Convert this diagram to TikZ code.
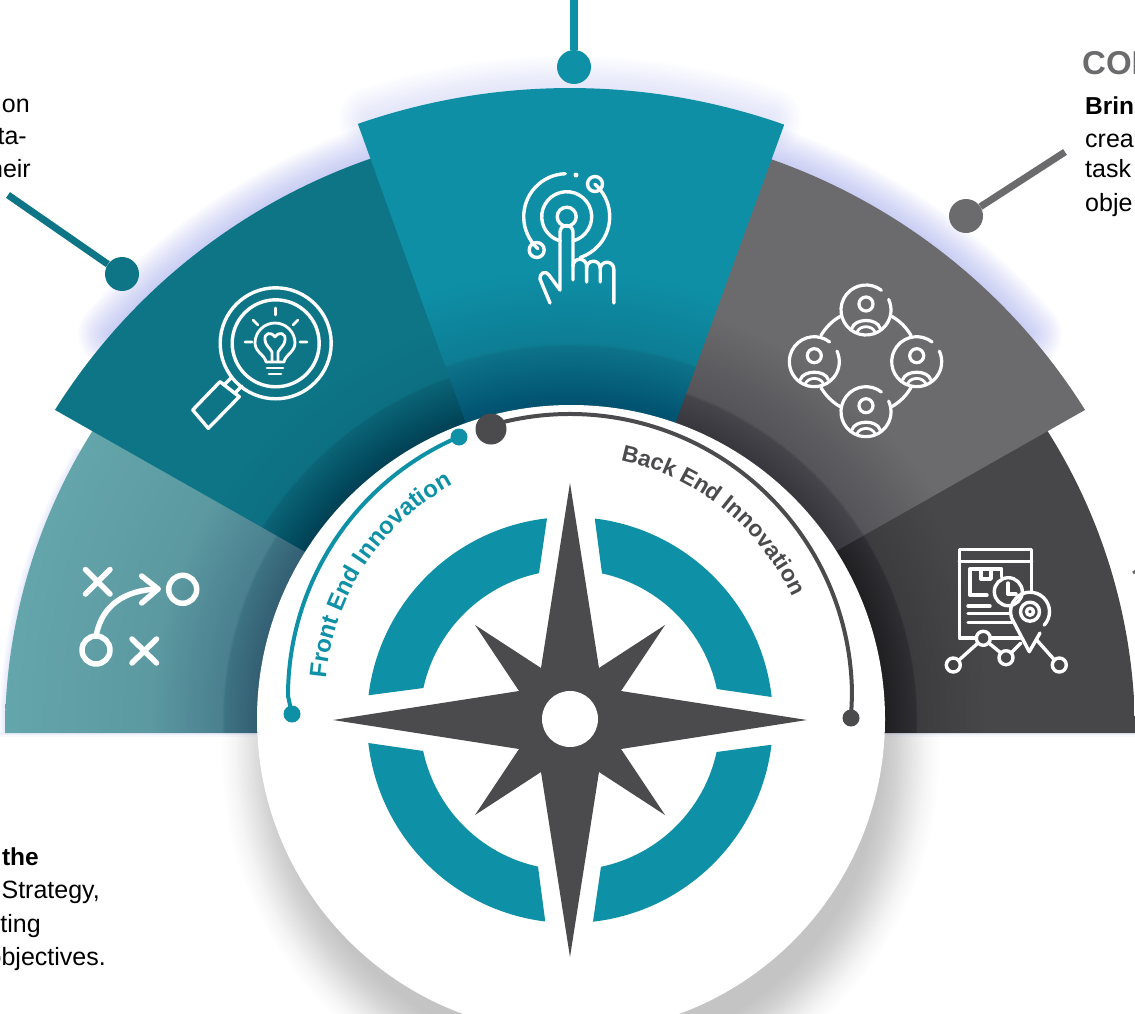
\documentclass[tikz,border=0pt]{standalone}
\usepackage{fontspec}
\setmainfont{Liberation Sans}
\usetikzlibrary{decorations.text}

\definecolor{tealTop}{RGB}{14,145,166}
\definecolor{tealDeep}{RGB}{13,117,134}
\definecolor{grayPin}{RGB}{107,107,109}
\definecolor{grayStar}{RGB}{75,75,77}
\definecolor{haloBlue}{RGB}{140,150,230}

\pgfdeclareradialshading{fanA}{\pgfpointorigin}{rgb(0bp)=(.2,.37,.45); rgb(13.85bp)=(.2,.37,.45); rgb(15.3bp)=(.24,.45,.51); rgb(15.4bp)=(.29,.5,.56); rgb(18.6bp)=(.36,.6,.63); rgb(25bp)=(.39,.65,.67); rgb(50bp)=(.39,.65,.67)}
\pgfdeclareradialshading{fanB}{\pgfpointorigin}{rgb(0bp)=(0,.25,.33); rgb(12.9bp)=(0,.25,.33); rgb(14.9bp)=(.04,.39,.46); rgb(15bp)=(.05,.44,.51); rgb(17.3bp)=(.05,.46,.525); rgb(50bp)=(.05,.46,.525)}
\pgfdeclareradialshading{fanC}{\pgfpointorigin}{rgb(0bp)=(0,.31,.43); rgb(12.1bp)=(0,.31,.43); rgb(14.5bp)=(.05,.45,.54); rgb(14.6bp)=(.05,.49,.58); rgb(17.4bp)=(.055,.56,.65); rgb(50bp)=(.055,.57,.65)}
\pgfdeclareradialshading{fanD}{\pgfpointorigin}{rgb(0bp)=(.21,.21,.235); rgb(12.9bp)=(.21,.21,.235); rgb(14.2bp)=(.27,.27,.29); rgb(14.3bp)=(.33,.33,.35); rgb(17.7bp)=(.42,.42,.427); rgb(50bp)=(.42,.42,.427)}
\pgfdeclareradialshading{fanE}{\pgfpointorigin}{rgb(0bp)=(.12,.12,.13); rgb(13.85bp)=(.12,.12,.13); rgb(15.3bp)=(.18,.18,.2); rgb(15.35bp)=(.235,.235,.247); rgb(18.6bp)=(.28,.28,.29); rgb(50bp)=(.28,.28,.29)}
\pgfdeclareradialshading{hubshadow}{\pgfpointorigin}{rgb(0bp)=(.77,.77,.77); rgb(20.83bp)=(.77,.77,.77); rgb(21.9bp)=(.82,.82,.82); rgb(22.9bp)=(.89,.89,.89); rgb(23.96bp)=(.96,.96,.96); rgb(25bp)=(1,1,1); rgb(50bp)=(1,1,1)}

\tikzset{
	icon/.style={draw=white, line width=3.4pt, line cap=round, line join=round},
	iconthick/.style={icon, line width=5.5pt},
	iconthin/.style={icon, line width=2.8pt},
	pindot/.style={circle, inner sep=0pt, minimum size=34pt},
	bodytext/.style={inner sep=0pt, font=\fontsize{25}{32}\selectfont},
	person/.pic={
		\draw[iconthin, line width=3.2pt] (0,0) ++(-52:25) arc[start angle=-52, end angle=-385, radius=25];
		\draw[iconthin, line width=3.2pt] (0,-6) circle[radius=7];
		\draw[iconthin, line width=3.2pt] (-14,18) .. controls (-11,8) and (11,8) .. (14,18);
		\draw[iconthin] (-9,22) .. controls (-6,15) and (6,15) .. (9,22);
	}
}

\begin{document}
\begin{tikzpicture}[x=1pt, y=-1pt]
	\useasboundingbox (0,0) rectangle (1135,1014);

	% soft glow round the fan
	\foreach \w in {3,6,...,66} {
		\draw[haloBlue, line width=\w pt, opacity=.028, line cap=round] (570,733) ++(-139:608) arc[start angle=-139, end angle=-105, radius=608];
		\draw[haloBlue, line width=\w pt, opacity=.028, line cap=round] (570,733) ++(-41:608) arc[start angle=-41, end angle=-75, radius=608];
		\draw[haloBlue, line width=\w pt, opacity=.012, line cap=round] (570,733) ++(-108:645) arc[start angle=-108, end angle=-72, radius=645];
	}
	\foreach \w in {3,6,9,12} {
		\draw[haloBlue, line width=\w pt, opacity=.05] (570,733) ++(-180:565) arc[start angle=-180, end angle=-150, radius=565];
	}
	\shade[shading=hubshadow] (580,755) circle[radius=360];
	\fill[haloBlue, opacity=.15] (0,733) rectangle (1135,735);
	\fill[haloBlue, opacity=.06] (0,735) rectangle (1135,737);

	% fan sectors
	\begin{scope}
		\clip (570,733) ++(-180:565) arc[start angle=-180, end angle=-140, radius=565] -- (570,702) -- (570,733) -- cycle;
		\shade[shading=fanA] (570,720) circle[radius=565];
	\end{scope}
	\begin{scope}
		\clip (570,733) ++(0:565) arc[start angle=0, end angle=-40, radius=565] -- (570,702) -- (570,733) -- cycle;
		\shade[shading=fanE] (570,720) circle[radius=565];
	\end{scope}
	\begin{scope}
		\clip (570,733) ++(-147.9:608) arc[start angle=-147.9, end angle=-105, radius=608] -- (570,702) -- cycle;
		\shade[shading=fanB] (570,720) circle[radius=608];
	\end{scope}
	\begin{scope}
		\clip (570,733) ++(-32.1:608) arc[start angle=-32.1, end angle=-75, radius=608] -- (570,702) -- cycle;
		\shade[shading=fanD] (570,720) circle[radius=608];
	\end{scope}
	\begin{scope}
		\clip (570,733) ++(-109.2:645) arc[start angle=-109.2, end angle=-70.6, radius=645] -- (570,712) -- cycle;
		\shade[shading=fanC] (570,720) circle[radius=645];
	\end{scope}

	% hub
	\fill[white] (571,719) circle[radius=314];
	\foreach \r in {0,90,180,270} {
		\fill[tealTop, rotate around={\r:(570,720)}] (570,720) ++(-96.5:203) arc[start angle=-96.5, end angle=-173, radius=203] -- (423.4,688) arc[start angle=-167.7, end angle=-101.9, radius=150] -- cycle;
	}
	\fill[grayStar] (570,483) -- (599,668) -- (665,625) -- (621,691) -- (807,720) -- (621,749) -- (665,815) -- (599,772) -- (570,957) -- (541,772) -- (475,815) -- (519,749) -- (333,720) -- (519,691) -- (475,625) -- (541,668) -- cycle;
	\node[circle, fill=white, inner sep=0pt, minimum size=56pt] (hubeye) at (570,719) {};

	% scale arcs
	\node[circle, fill=tealTop, inner sep=0pt, minimum size=17pt] (frontstart) at (292,714) {};
	\node[circle, fill=tealTop, inner sep=0pt, minimum size=17pt] (frontend) at (459,437) {};
	\node[circle, fill=grayStar, inner sep=0pt, minimum size=31pt] (backstart) at (491,429) {};
	\node[circle, fill=grayStar, inner sep=0pt, minimum size=17pt] (backend) at (851,718) {};
	\draw[tealTop, line width=4pt] (frontstart.center) -- (288,696) arc[start angle=-180, end angle=-113.2, radius=282] -- (frontend.center);
	\draw[grayStar, line width=4pt] (backstart.center) -- (489.9,425.6) arc[start angle=-106.5, end angle=0, radius=282] -- (backend.center);

	\path[decorate, decoration={text along path, text align=center, text color=tealTop, text={|\bfseries\fontsize{24}{24}\selectfont|Front End Innovation}}] (570,700) ++(-190:245) arc[start angle=-190, end angle=-103.5, radius=245];
	\path[decorate, decoration={text along path, text align=center, text color=grayStar, text={|\bfseries\fontsize{23}{24}\selectfont|Back End Innovation}}] (570,700) ++(-95:245) arc[start angle=-95, end angle=-8, radius=245];

	% pins
	\coordinate (topfree) at (574,0);
	\coordinate (leftfree) at (8,195);
	\coordinate (rightfree) at (1065,152);
	\node[pindot, fill=tealTop] (toppin) at (574,67) {};
	\node[pindot, fill=tealDeep] (leftpin) at (122,274) {};
	\node[pindot, fill=grayPin] (rightpin) at (966,216) {};
	\draw[tealTop, line width=8pt] (topfree) -- (toppin);
	\draw[tealDeep, line width=7pt] (leftfree) -- (leftpin);
	\draw[grayPin, line width=7pt] (rightfree) -- (rightpin);
	\coordinate (edgefree) at (1136,571);
	\coordinate (edgestub) at (1133,573);
	\draw[grayPin, line width=3pt] (edgefree) -- (edgestub);

	% texts
	\node[bodytext, anchor=base east] (leftone) at (30,113) {on};
	\node[bodytext, anchor=base east] (lefttwo) at (27,145) {ta-};
	\node[bodytext, anchor=base east] (leftthree) at (31,177) {heir};

	\node[anchor=base west, inner sep=0pt, text=grayPin, font=\fontsize{33}{34}\selectfont\bfseries] (righttitle) at (1082,75) {COI};
	\node[bodytext, anchor=base west, font=\fontsize{24.5}{32}\selectfont\bfseries] (rightone) at (1085,115) {Bring};
	\node[bodytext, anchor=base west] (righttwo) at (1085,147) {crea};
	\node[bodytext, anchor=base west] (rightthree) at (1085,178) {task};
	\node[bodytext, anchor=base west] (rightfour) at (1085,211) {obje};

	\node[bodytext, anchor=base east, font=\fontsize{24.5}{32}\selectfont\bfseries] (lowone) at (39,865) {the};
	\node[bodytext, anchor=base east] (lowtwo) at (100,898) {Strategy,};
	\node[bodytext, anchor=base east] (lowthree) at (41,932) {ting};
	\node[bodytext, anchor=base east] (lowfour) at (106,965) {objectives.};

	% icon: playbook
	\draw[iconthick] (85.5,569.5) -- (110,594) (110,569.5) -- (85.5,594);
	\draw[iconthick] (132,639) -- (156.5,663) (156.5,639) -- (132,663);
	\draw[iconthick] (182.7,589.3) circle[radius=14];
	\draw[iconthick] (96,650) circle[radius=14];
	\draw[iconthick] (96.7,633) .. controls (103,605) and (125,590) .. (158,589);
	\draw[iconthick] (141.7,576) -- (158,589) -- (141.7,603);

	% icon: magnifier
	\draw[icon] (275.7,343.3) circle[radius=55.5];
	\draw[icon] (275.7,343.3) circle[radius=43.5];
	\draw[icon] (192.7,410) -- (220,381.7) -- (239.3,396.7) -- (208.3,428.3) -- cycle;
	\draw[icon] (224,385) -- (231,378) (235,393) -- (242,386);
	\draw[iconthin] (266,362) .. controls (265,355) and (255,352) .. (255,343) .. controls (255,332) and (264,323) .. (275,323) .. controls (286,323) and (295,332) .. (295,343) .. controls (295,352) and (285,355) .. (284,362) -- cycle;
	\draw[iconthin] (267,368) -- (283,368) (269,374) -- (281,374);
	\draw[iconthin] (275.5,308) -- (275.5,315) (245,342) -- (252,342) (300,342) -- (307,342) (253,320) -- (258,325) (298,320) -- (293,325);
	\draw[iconthin] (275,337) .. controls (271,331) and (264,333) .. (265,340) .. controls (265,345) and (270,348) .. (272,352) -- (272,361);
	\draw[iconthin] (275,337) .. controls (279,331) and (286,333) .. (285,340) .. controls (285,345) and (280,348) .. (278,352) -- (278,361);

	% icon: touch
	\draw[icon] (566.7,216.7) circle[radius=9.5];
	\draw[icon] (566.7,216.7) ++(75:25) arc[start angle=75, end angle=-255, radius=25];
	\draw[icon] (566.7,216.7) ++(-92:43) arc[start angle=-92, end angle=-228, radius=43];
	\draw[icon] (566.7,216.7) ++(-49:43) arc[start angle=-49, end angle=71.7, radius=43];
	\draw[icon] (536.7,250) circle[radius=7.5];
	\draw[icon] (595,184) circle[radius=7.5];
	\fill[white] (576,175) circle[radius=2.5];
	\draw[icon] (550,303) -- (540,279) .. controls (539,273) and (546,270) .. (549,275) -- (560,290) -- (560,232) arc[start angle=180, end angle=360, radius=6.5] -- (573,280);
	\draw[icon] (573,266) arc[start angle=180, end angle=360, radius=6.8] -- (586.6,282);
	\draw[icon] (586.6,268) arc[start angle=180, end angle=360, radius=6.8] -- (600.2,282);
	\draw[icon] (600.2,269) arc[start angle=180, end angle=360, radius=6.8] -- (613.8,303);

	% icon: people ring
	\pic at (866,310) {person};
	\pic at (814.3,361.7) {person};
	\pic at (916.7,361.7) {person};
	\pic at (866,411.7) {person};
	\foreach \a in {30,120,210,300} {
		\draw[iconthin, line width=3.2pt] (866,361.5) ++(-\a:52) arc[start angle=-\a, end angle=-\a-30, radius=52];
	}

	% icon: tracking sheet
	\draw[icon] (976,638) -- (959.3,638) -- (959.3,549.3) -- (1031.7,549.3) -- (1031.7,591);
	\draw[icon] (959.3,561.7) -- (1031.7,561.7);
	\draw[icon] (990,638) -- (1020,638);
	\draw[icon] (987,595) -- (970,595) -- (970,569) -- (1001.7,569) -- (1001.7,577);
	\draw[icon] (981,569) -- (981,579) -- (991,579) -- (991,569);
	\draw[icon] (1008.3,591.7) circle[radius=14];
	\draw[icon] (1008,583) -- (1008,594) -- (1016,594);
	\draw[icon] (968,606) -- (990,606) (968,613.5) -- (1010,613.5) (968,622.7) -- (1012,622.7);
	\draw[icon] (1030,611.7) ++(43.5:19.5) arc[start angle=43.5, end angle=-198.4, radius=19.5] -- (1029.3,651.7) -- (1040,633);
	\draw[icon] (1030,611.7) circle[radius=9.5];
	\draw[icon] (1030,611.7) circle[radius=3.5];
	\draw[icon] (953.3,665) circle[radius=7];
	\draw[icon] (983.3,638.3) circle[radius=7];
	\draw[icon] (1006,657.7) circle[radius=7];
	\draw[icon] (1059.3,665) circle[radius=7];
	\draw[icon] (958.5,660.5) -- (978,643) (988.5,642.8) -- (1001,653) (1011,653) -- (1021,643) (1036.7,640) -- (1054.5,660);
\end{tikzpicture}
\end{document}
